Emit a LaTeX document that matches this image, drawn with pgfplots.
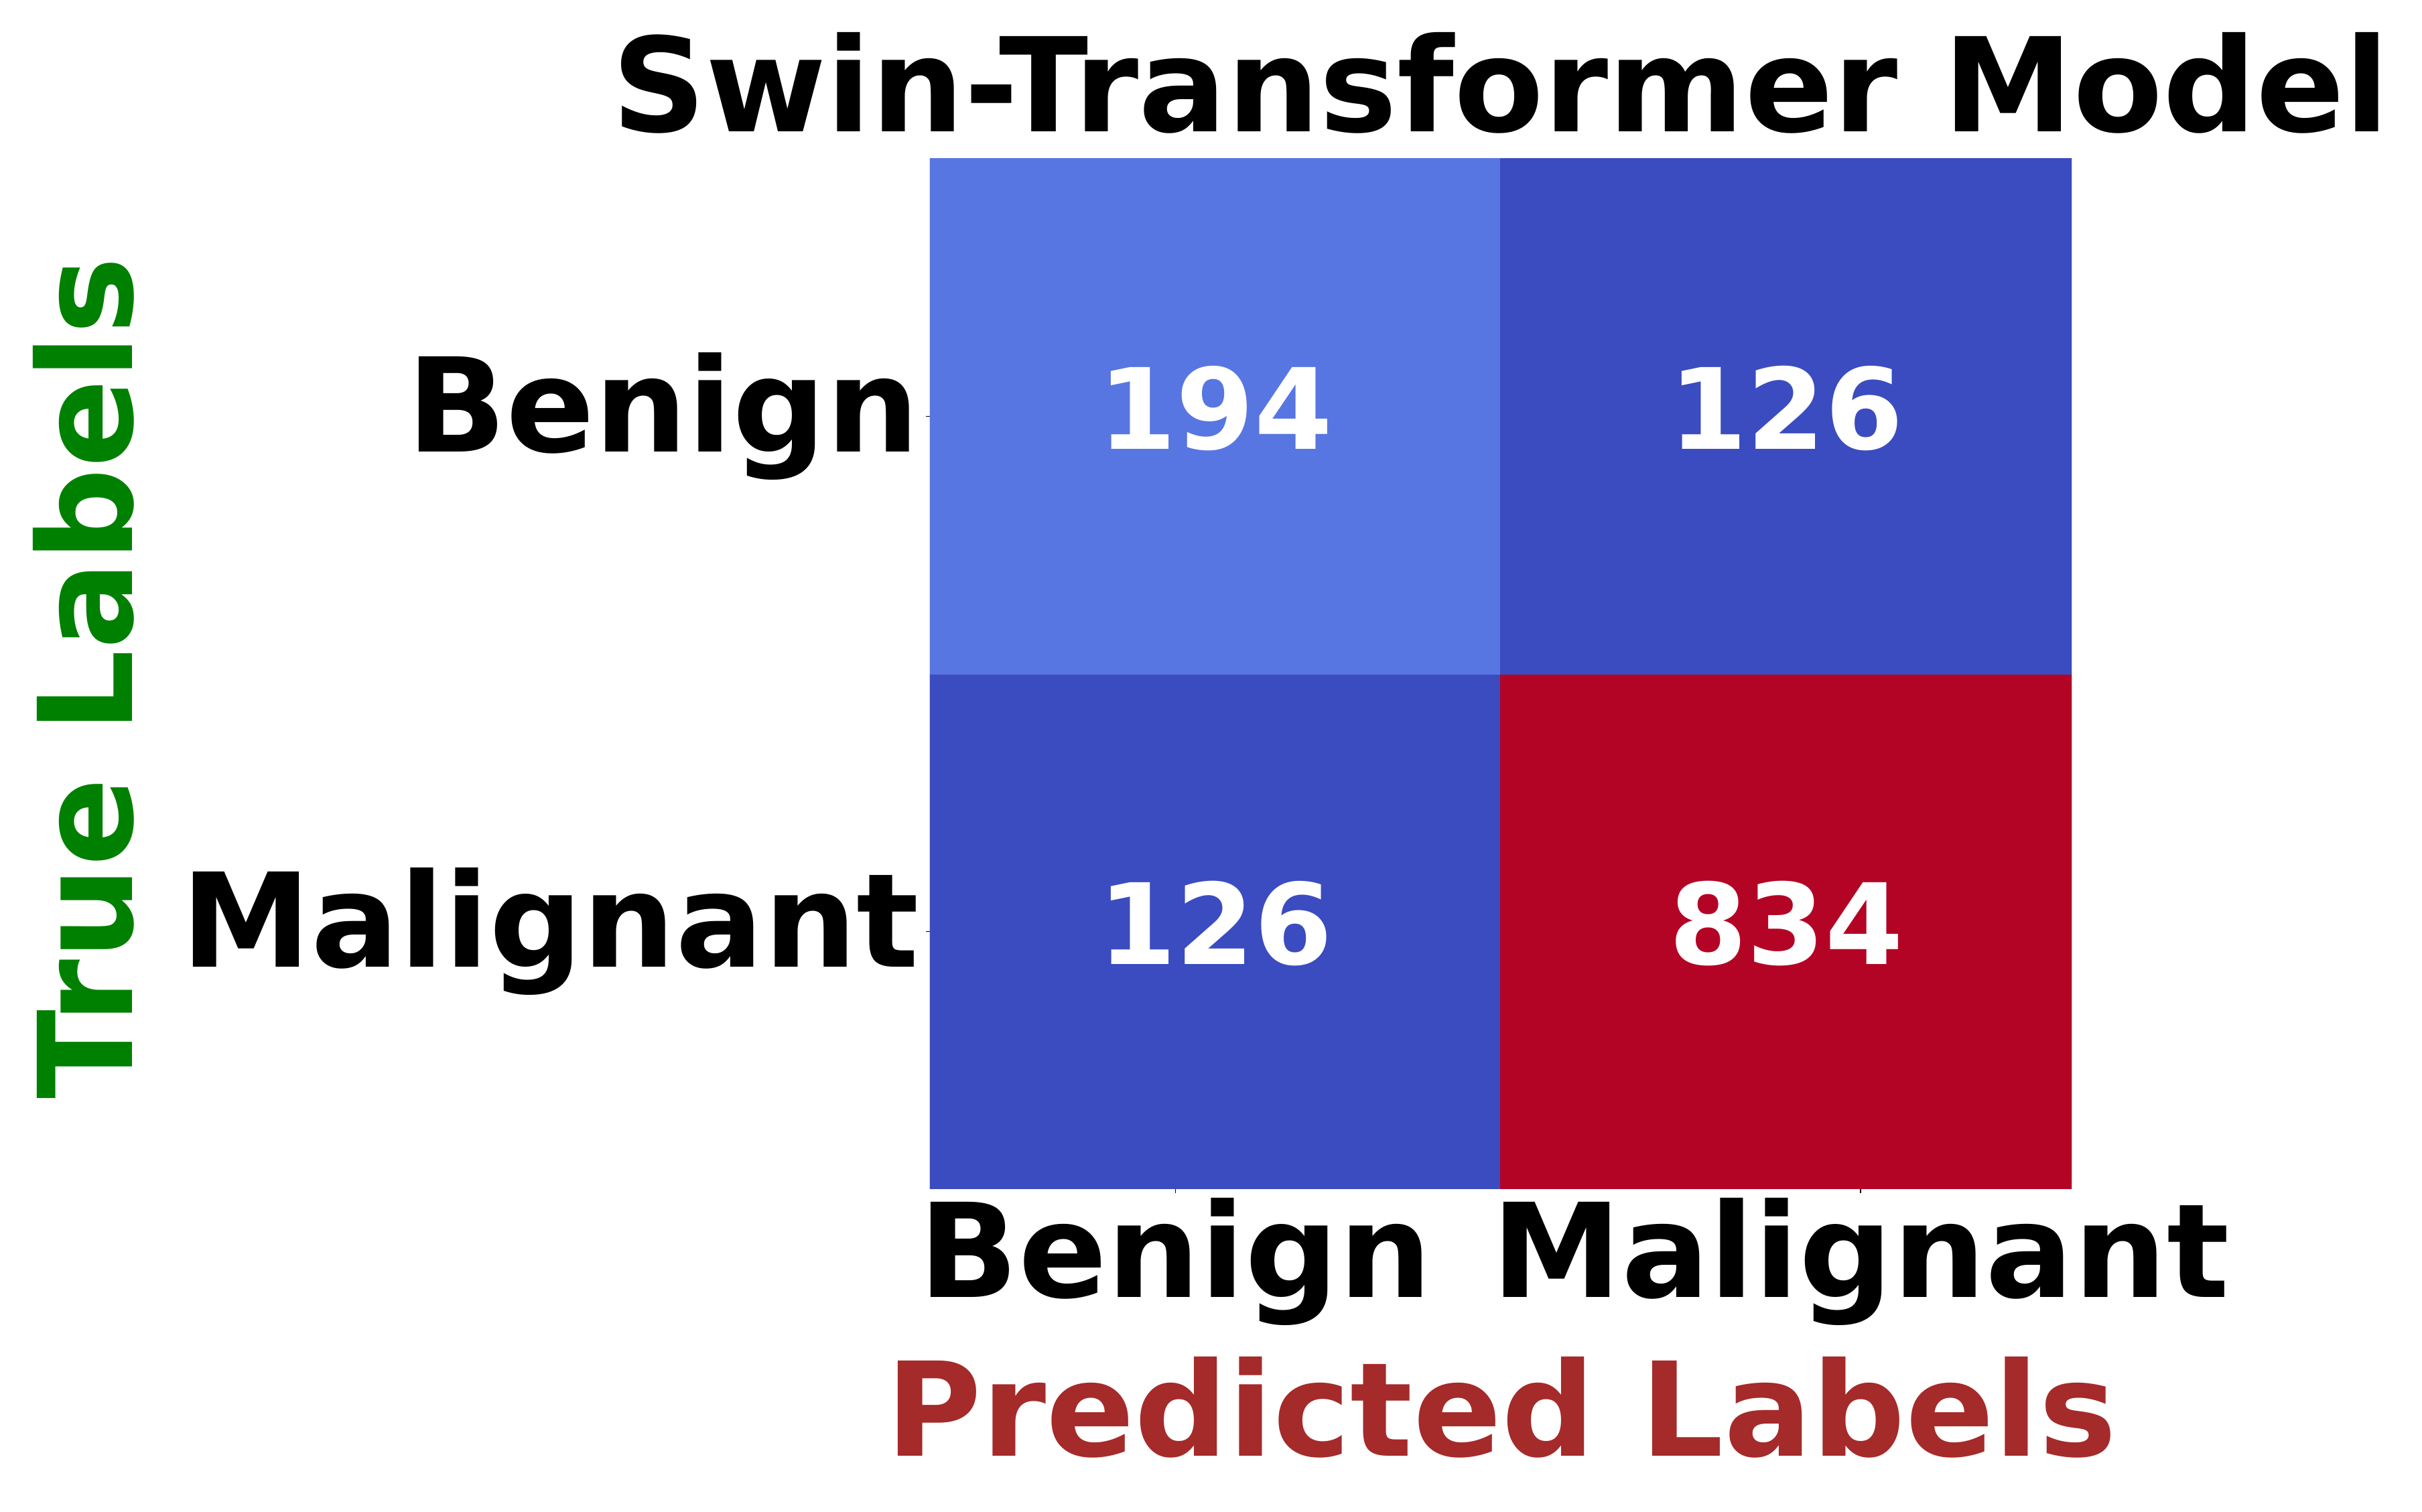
\documentclass[border=0pt]{standalone}
\usepackage{pgfplots}
\pgfplotsset{compat=1.18}
\usepackage{fontspec}
\setmainfont{DejaVu Sans}

\definecolor{lblgreen}{RGB}{0,128,0}
\definecolor{lblbrown}{RGB}{165,42,42}

% confusion matrix (row y=1.5 is "Benign", y=0.5 is "Malignant")
\pgfplotstableread{
x   y   c
0.5 0.5 126
1.5 0.5 834
0.5 1.5 194
1.5 1.5 126
}\cmdata

\newcommand{\bigfont}{\bfseries\fontsize{39}{47}\selectfont}

\begin{document}
\begin{tikzpicture}
\useasboundingbox (0,0) rectangle (723pt,451.4pt);
\begin{axis}[
    at={(277.6pt,96.4pt)}, anchor=south west,
    width=340.8pt, height=307.6pt, scale only axis,
    xmin=0, xmax=2, ymin=0, ymax=2,
    enlargelimits=false,
    axis line style={draw=none},
    colormap={coolwarm}{
        rgb255(0)=(59,76,192);
        rgb255(1)=(77,104,215);
        rgb255(2)=(98,130,234);
        rgb255(4)=(141,176,254);
        rgb255(8)=(221,221,221);
        rgb255(12)=(244,154,123);
        rgb255(16)=(180,4,38)
    },
    point meta min=126, point meta max=834,
    xtick={0.43,1.63}, xticklabels={Benign,Malignant},
    ytick={0.5,1.5}, yticklabels={Malignant,Benign},
    xtick pos=bottom, ytick pos=left,
    tick align=outside,
    major tick length=1.2pt,
    tick style={black, line width=0.3pt},
    ticklabel style={font=\bigfont, text=black},
    xticklabel style={anchor=north, inner sep=0pt, yshift=-1.2pt},
    yticklabel style={anchor=east, inner sep=0pt, xshift=-1.8pt},
]
\addplot[matrix plot*, mesh/cols=2, point meta=explicit, draw=none]
    table[x=x, y=y, meta=c] {\cmdata};
\addplot[draw=none, mark=none, nodes near coords, point meta=explicit symbolic,
    nodes near coords style={anchor=center, text=white,
        font=\bfseries\fontsize{33.5}{40}\selectfont, yshift=2.3pt}]
    table[x=x, y=y, meta=c] {\cmdata};
\end{axis}

\node[anchor=base, font=\bigfont] at (448pt,412pt) {Swin-Transformer Model};
\node[anchor=base, font=\bigfont, text=lblbrown] at (448.2pt,16.6pt) {Predicted Labels};
\node[anchor=base, rotate=90, font=\bigfont, text=lblgreen] at (39.4pt,249pt) {True Labels};
\end{tikzpicture}
\end{document}
